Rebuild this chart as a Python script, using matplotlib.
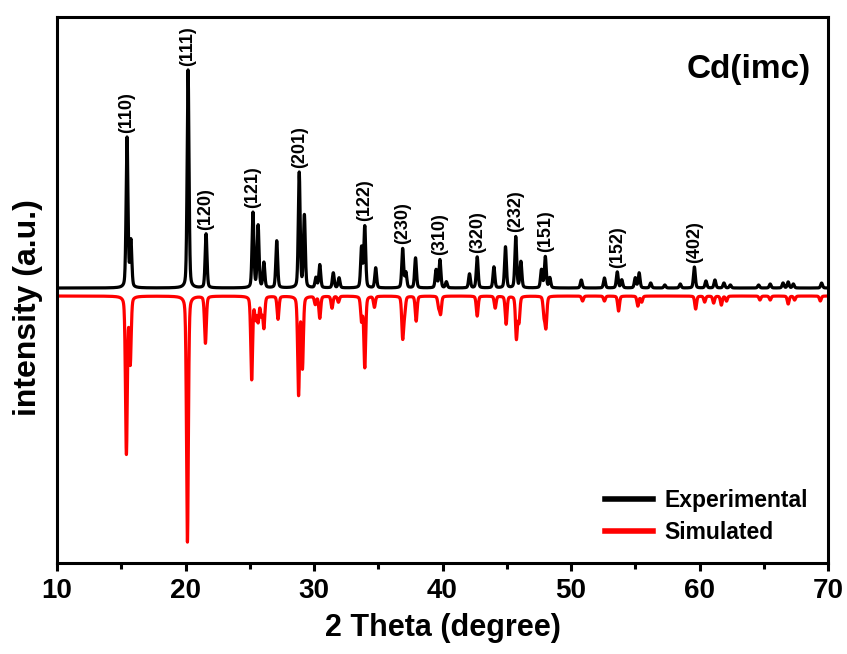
import numpy as np
import matplotlib
matplotlib.use("Agg")
import matplotlib.pyplot as plt

plt.rcParams['font.family'] = ['Liberation Sans', 'DejaVu Sans']

# Experimental peaks: 2theta positions and heights (a.u.)
exp_pos = [15.45, 15.75, 20.2, 21.6, 25.25, 25.65, 26.1, 27.1, 28.85, 29.25,
           30.15, 30.45, 31.5, 31.95, 33.7, 33.95, 34.8, 36.9, 37.15, 37.9,
           39.5, 39.8, 40.3, 42.1, 42.7, 44.0, 44.9, 45.7, 46.1, 47.7, 48.0,
           48.35, 50.8, 52.6, 53.6, 53.95, 55.0, 55.3, 56.2, 57.3, 58.5, 59.6,
           60.5, 61.2, 61.9, 62.4, 64.6, 65.5, 66.5, 66.9, 67.3, 69.5]
exp_int = [150, 46, 218, 54, 75, 62, 25, 47, 115, 72,
           10, 23, 15, 10, 40, 61, 20, 39, 15, 30,
           18, 28, 6, 14, 31, 21, 41, 51, 26, 18, 31,
           10, 8, 10, 16, 8, 10, 15, 5, 3, 4, 21,
           7, 8, 5, 3, 3, 4, 5, 6, 4, 5]

# Simulated peaks: 2theta positions and intensities (a.u.)
sim_pos = [15.4, 15.7, 20.15, 21.55, 25.15, 25.45, 25.65, 25.9, 26.1, 27.2,
           28.8, 29.1, 30.1, 30.45, 31.4, 31.9, 33.7, 33.95, 34.7, 36.9,
           37.05, 37.95, 39.7, 39.85, 42.7, 44.1, 44.95, 45.75, 45.95, 47.9,
           48.05, 50.9, 52.6, 53.7, 55.2, 55.5, 59.7, 60.4, 61.1, 61.7,
           62.1, 64.7, 65.5, 66.9, 67.4, 69.4]
sim_int = [157, 66, 246, 47, 83, 21, 24, 18, 31, 23,
           98, 71, 8, 22, 12, 6, 24, 71, 11, 41,
           15, 25, 10, 17, 20, 12, 28, 42, 25, 18,
           30, 5, 5, 15, 10, 6, 13, 6, 7, 9,
           5, 4, 4, 8, 4, 5]

# Miller index labels and the experimental peaks they mark
hkl_labels = ['(110)', '(111)', '(120)', '(121)', '(201)', '(122)', '(230)',
              '(310)', '(320)', '(232)', '(151)', '(152)', '(402)']
hkl_pos = [15.45, 20.2, 21.6, 25.25, 28.85, 33.95, 36.9, 39.8, 42.7, 45.7,
           48.0, 53.6, 59.6]

exp_offset = 8.0
fwhm = 0.17

x = np.linspace(10, 70, 6001)


def pattern(pos, inten):
    y = np.zeros_like(x)
    s = fwhm / 2.3548
    g = fwhm / 2
    for p, h in zip(pos, inten):
        gauss = np.exp(-0.5 * ((x - p) / s) ** 2)
        lor = 1.0 / (1 + ((x - p) / g) ** 2)
        y += h * (0.7 * gauss + 0.3 * lor)
    return y


exp_profile = pattern(exp_pos, exp_int)
y_exp = exp_offset + exp_profile
y_sim = -pattern(sim_pos, sim_int)

fig = plt.figure(figsize=(8.47, 6.54), dpi=100)
ax = fig.add_axes([0.0673, 0.1391, 0.9103, 0.8349])

ax.plot(x, y_exp, color='black', lw=2.3, label='Experimental', solid_joinstyle='round')
ax.plot(x, y_sim, color='#ff0000', lw=2.3, label='Simulated', solid_joinstyle='round')

for lab, p in zip(hkl_labels, hkl_pos):
    h = exp_offset + np.interp(p, x, exp_profile)
    ax.annotate(lab, xy=(p, h), xytext=(0, 3), textcoords='offset points',
                rotation=90, ha='center', va='bottom', fontsize=13,
                fontweight='bold')

ax.set_xlim(10, 70)
ax.set_ylim(-267, 279)
ax.set_yticks([])
ax.set_xticks(np.arange(10, 71, 10))
ax.set_xticks(np.arange(15, 70, 10), minor=True)
ax.tick_params(axis='x', which='major', direction='out', length=6, width=2.2,
               labelsize=20, pad=5)
ax.tick_params(axis='x', which='minor', direction='out', length=4, width=2.2)
for lbl in ax.get_xticklabels():
    lbl.set_fontweight('bold')
for sp in ax.spines.values():
    sp.set_linewidth(2.2)

ax.set_xlabel('2 Theta (degree)', fontsize=22, fontweight='bold', labelpad=6)
ax.set_ylabel('intensity (a.u.)', fontsize=23, fontweight='bold')
ax.yaxis.set_label_coords(-0.018, 0.467)

ax.text(0.977, 0.903, 'Cd(imc)', transform=ax.transAxes, ha='right',
        va='center', fontsize=24, fontweight='bold')

leg = ax.legend(loc='upper left', bbox_to_anchor=(0.711, 0.136), frameon=False,
                fontsize=16.5, handlelength=2.1, handletextpad=0.5,
                borderpad=0, borderaxespad=0, labelspacing=0.4)
for t in leg.get_texts():
    t.set_fontweight('bold')
for l in leg.get_lines():
    l.set_linewidth(4)

fig.savefig('out.png', dpi=100)
